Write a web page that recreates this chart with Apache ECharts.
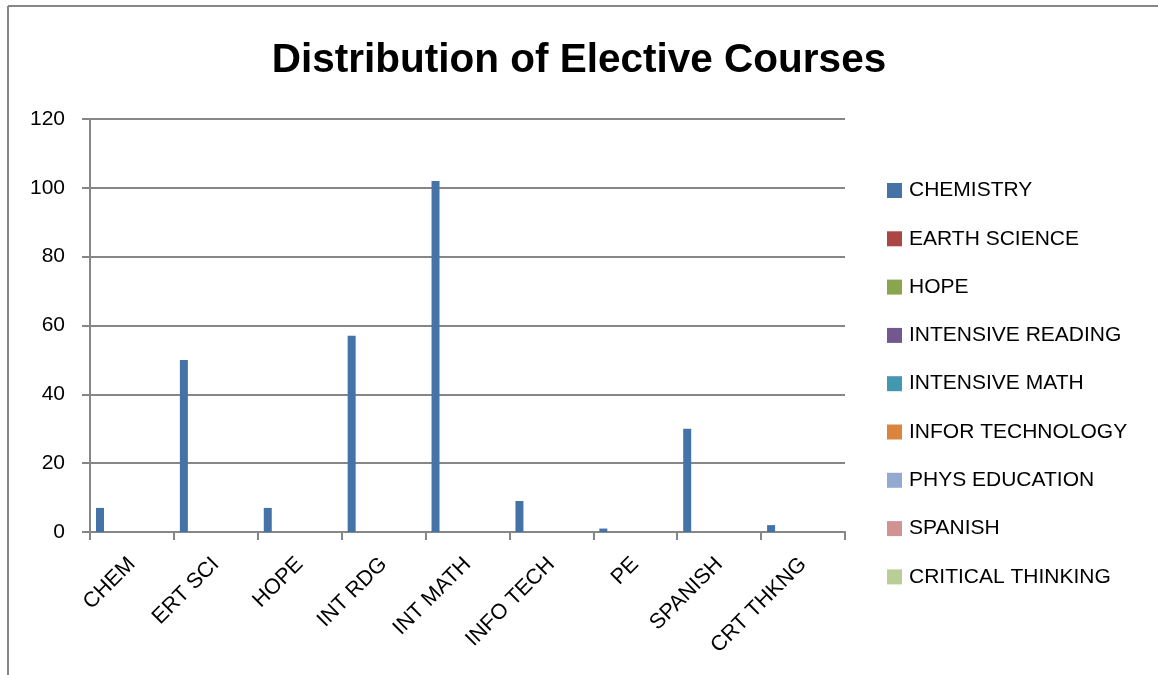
<!DOCTYPE html>
<html>
<head>
<meta charset="utf-8">
<title>Distribution of Elective Courses</title>
<script src="https://cdn.jsdelivr.net/npm/echarts@6/dist/echarts.min.js"></script>
<style>
  html, body { margin: 0; padding: 0; background: #ffffff; }
  #chart { width: 1158px; height: 675px; }
</style>
</head>
<body>
<div id="chart"></div>
<script>
// Course abbreviations along the horizontal axis
const categories = ['CHEM', 'ERT SCI', 'HOPE', 'INT RDG', 'INT MATH', 'INFO TECH', 'PE', 'SPANISH', 'CRT THKNG'];

// Legend entries (one series per course)
const seriesNames = ['CHEMISTRY', 'EARTH SCIENCE', 'HOPE', 'INTENSIVE READING', 'INTENSIVE MATH',
  'INFOR TECHNOLOGY', 'PHYS EDUCATION', 'SPANISH', 'CRITICAL THINKING'];

// Enrolment counts; only the CHEMISTRY series carries values
const chemistry = [7, 50, 7, 57, 102, 9, 1, 30, 2];
const earthScience = [];
const hope = [];
const intensiveReading = [];
const intensiveMath = [];
const inforTechnology = [];
const physEducation = [];
const spanish = [];
const criticalThinking = [];

// Y-axis scale
const yMin = 0;
const yMax = 120;
const yStep = 20;

const seriesValues = [chemistry, earthScience, hope, intensiveReading, intensiveMath,
  inforTechnology, physEducation, spanish, criticalThinking];

const palette = ['#4572A7', '#AA4643', '#89A54E', '#71588F', '#4198AF',
  '#DB843D', '#93A9CF', '#D19392', '#B9CD96'];

const FONT = '"Liberation Sans", Arial, sans-serif';
const GRAY = '#868686';

const chart = echarts.init(document.getElementById('chart'), null, { renderer: 'canvas' });

const option = {
  backgroundColor: '#ffffff',
  animation: false,
  color: palette,
  title: {
    text: 'Distribution of Elective Courses',
    left: 'center',
    top: 35,
    textStyle: { fontFamily: FONT, fontWeight: 'bold', fontSize: 40.5, color: '#000000' }
  },
  graphic: [
    { type: 'line', shape: { x1: 8, y1: 6, x2: 1158, y2: 6 }, style: { stroke: GRAY, lineWidth: 2 } },
    { type: 'line', shape: { x1: 8, y1: 6, x2: 8, y2: 675 }, style: { stroke: GRAY, lineWidth: 2 } }
  ],
  legend: {
    orient: 'vertical',
    left: 887,
    top: 180,
    padding: 0,
    itemWidth: 15,
    itemHeight: 15,
    itemGap: 27.3,
    icon: 'rect',
    data: seriesNames,
    textStyle: { fontFamily: FONT, fontSize: 21, color: '#000000', lineHeight: 21, padding: [0, 0, 0, 2] }
  },
  grid: { left: 90, right: 313, top: 119, bottom: 143, containLabel: false },
  xAxis: {
    type: 'category',
    data: categories,
    axisLine: { show: true, lineStyle: { color: GRAY, width: 2 } },
    axisTick: { show: true, length: 8, lineStyle: { color: GRAY, width: 2 } },
    axisLabel: {
      rotate: 45,
      margin: 29,
      interval: 0,
      fontFamily: FONT,
      fontSize: 21.5,
      color: '#000000'
    }
  },
  yAxis: {
    type: 'value',
    min: yMin,
    max: yMax,
    interval: yStep,
    axisLine: { show: true, lineStyle: { color: GRAY, width: 2 } },
    axisTick: { show: true, length: 8, lineStyle: { color: GRAY, width: 2 } },
    axisLabel: { margin: 25, fontFamily: FONT, fontSize: 21, color: '#000000' },
    splitLine: { show: true, lineStyle: { color: GRAY, width: 2 } }
  },
  series: seriesNames.map((name, i) => ({
    name: name,
    type: 'bar',
    data: seriesValues[i],
    barGap: '0%',
    barCategoryGap: '14.29%',
    itemStyle: { color: palette[i] }
  }))
};

chart.setOption(option);
</script>
</body>
</html>
